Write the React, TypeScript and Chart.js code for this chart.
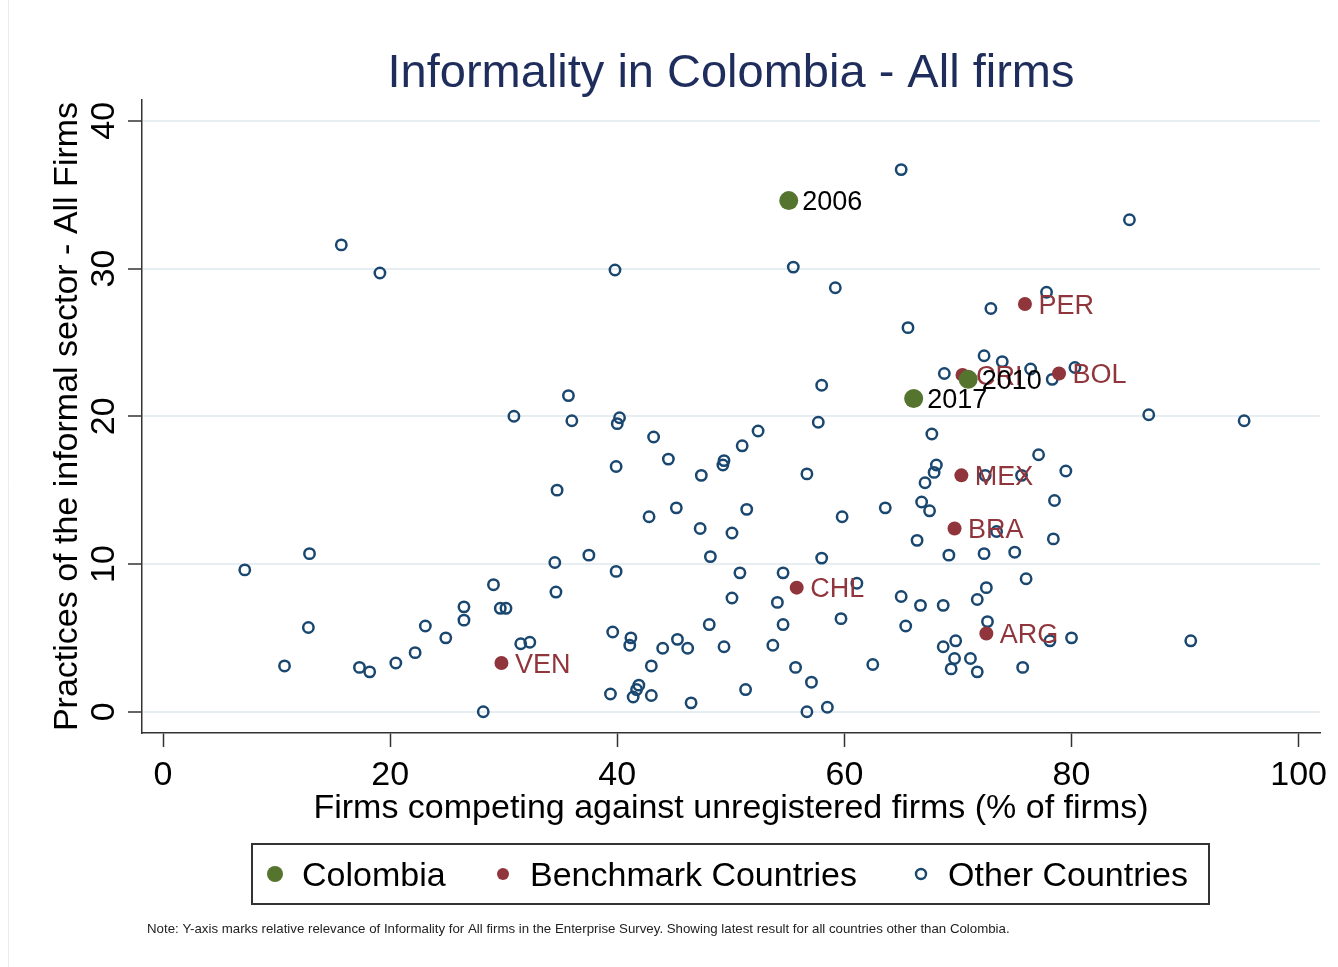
import React, { useEffect, useRef } from "react";
import { Chart, registerables } from "chart.js";

Chart.register(...registerables);

const xTicks = [0, 20, 40, 60, 80, 100];
const yTicks = [0, 10, 20, 30, 40];

const colombiaLabels = ["2006", "2010", "2017"];
const colombiaX = [55.1, 70.9, 66.1];
const colombiaY = [34.6, 22.5, 21.2];

const benchmarkLabels = ["PER", "CRI", "BOL", "MEX", "BRA", "ARG", "CHL", "VEN"];
const benchmarkX = [75.9, 70.4, 78.9, 70.3, 69.7, 72.5, 55.8, 29.8];
const benchmarkY = [27.6, 22.8, 22.9, 16.0, 12.4, 5.3, 8.4, 3.3];

const otherX = [
  15.7, 19.1, 7.2, 12.9, 12.8, 10.7, 17.3, 18.2, 20.5, 22.2, 23.1, 24.9,
  30.9, 36.0, 40.2, 40.0, 43.2, 52.4, 51.0, 49.4, 49.3, 44.5, 39.9, 47.4,
  57.7, 56.7, 34.7, 45.2, 42.8, 51.4, 59.8, 63.6, 47.3, 50.1, 37.5, 34.5,
  39.9, 48.2, 58.0, 50.8, 54.6, 61.1, 29.1, 34.6, 26.5, 26.5, 29.7, 30.2,
  50.1, 54.1, 59.7, 31.5, 32.3, 39.6, 41.2, 41.1, 48.1, 54.6, 45.3, 46.2,
  44.0, 49.4, 53.7, 43.0, 55.7, 62.5, 57.1, 39.4, 41.9, 41.7, 41.4, 43.0,
  46.5, 51.3, 28.2, 56.7, 58.5, 39.8, 55.5, 59.2, 58.0, 35.7, 65.0, 85.1,
  77.8, 72.9, 65.6, 72.3, 73.9, 76.4, 68.8, 78.3, 80.3, 86.8, 95.2, 67.7,
  77.1, 68.1, 67.9, 67.1, 79.5, 72.4, 75.6, 78.5, 66.8, 67.5, 73.4, 78.4,
  66.4, 69.2, 72.3, 75.0, 76.0, 72.5, 71.7, 65.0, 66.7, 68.7, 65.4, 72.6,
  69.8, 68.7, 78.1, 80.0, 90.5, 69.7, 71.1, 69.4, 71.7, 75.7,
];
const otherY = [
  31.6, 29.7, 9.6, 10.7, 5.7, 3.1, 3.0, 2.7, 3.3, 4.0, 5.8, 5.0,
  20.0, 19.7, 19.9, 19.5, 18.6, 19.0, 18.0, 17.0, 16.7, 17.1, 16.6, 16.0,
  19.6, 16.1, 15.0, 13.8, 13.2, 13.7, 13.2, 13.8, 12.4, 12.1, 10.6, 10.1,
  9.5, 10.5, 10.4, 9.4, 9.4, 8.7, 8.6, 8.1, 7.1, 6.2, 7.0, 7.0,
  7.7, 7.4, 6.3, 4.6, 4.7, 5.4, 5.0, 4.5, 5.9, 5.9, 4.9, 4.3,
  4.3, 4.4, 4.5, 3.1, 3.0, 3.2, 2.0, 1.2, 1.8, 1.5, 1.0, 1.1,
  0.6, 1.5, 0.0, 0.0, 0.3, 29.9, 30.1, 28.7, 22.1, 21.4, 36.7, 33.3,
  28.4, 27.3, 26.0, 24.1, 23.7, 23.2, 22.9, 22.5, 23.3, 20.1, 19.7, 18.8,
  17.4, 16.7, 16.2, 15.5, 16.3, 16.0, 16.0, 14.3, 14.2, 13.6, 12.2, 11.7,
  11.6, 10.6, 10.7, 10.8, 9.0, 8.4, 7.6, 7.8, 7.2, 7.2, 5.8, 6.1,
  4.8, 4.4, 4.8, 5.0, 4.8, 3.6, 3.6, 2.9, 2.7, 3.0,
];

const titleText = "Informality in Colombia - All firms";
const xTitle = "Firms competing against unregistered firms (% of firms)";
const yTitle = "Practices of the informal sector - All Firms";
const legendLabels = ["Colombia", "Benchmark Countries", "Other Countries"];
const noteText =
  "Note: Y-axis marks relative relevance of Informality for All firms in the Enterprise Survey. Showing latest result for all countries other than Colombia.";

const GREEN = "#55752f";
const MAROON = "#90353b";
const NAVY = "#1a476f";
const TITLE_COLOR = "#1f2d5c";
const AXIS = "#333333";
const GRID = "#e6eef1";
const FONT = '"Liberation Sans", Arial, Helvetica, sans-serif';

export default function App() {
  const ref = useRef<HTMLCanvasElement>(null);

  useEffect(() => {
    const canvas = ref.current;
    if (!canvas) return;

    const decor = {
      id: "decor",
      beforeDraw(chart: any) {
        const ctx = chart.ctx;
        ctx.save();
        ctx.fillStyle = "#ffffff";
        ctx.fillRect(0, 0, chart.width, chart.height);
        ctx.strokeStyle = "#ececec";
        ctx.lineWidth = 1;
        ctx.beginPath();
        ctx.moveTo(8.5, 0);
        ctx.lineTo(8.5, chart.height);
        ctx.stroke();
        ctx.restore();
      },
      afterDatasetsDraw(chart: any) {
        const ctx = chart.ctx;
        ctx.save();
        ctx.font = `27px ${FONT}`;
        ctx.textAlign = "left";
        ctx.textBaseline = "alphabetic";
        const draw = (idx: number, labels: string[], color: string) => {
          const meta = chart.getDatasetMeta(idx);
          ctx.fillStyle = color;
          meta.data.forEach((el: any, i: number) => {
            ctx.fillText(labels[i], el.x + 13.5, el.y + 9.7);
          });
        };
        draw(1, benchmarkLabels, MAROON);
        draw(0, colombiaLabels, "#000000");
        ctx.restore();
      },
      afterDraw(chart: any) {
        const ctx = chart.ctx;
        const area = chart.chartArea;
        const cx = (area.left + area.right) / 2;
        const cy = (area.top + area.bottom) / 2;
        ctx.save();

        // title
        ctx.fillStyle = TITLE_COLOR;
        ctx.font = `47px ${FONT}`;
        ctx.textAlign = "center";
        ctx.textBaseline = "alphabetic";
        ctx.fillText(titleText, cx, 87);

        // x tick labels
        ctx.fillStyle = "#000000";
        ctx.font = `34px ${FONT}`;
        const xs = chart.scales.x;
        xs.ticks.forEach((t: any) => {
          ctx.fillText(String(t.value), xs.getPixelForValue(t.value), 785);
        });

        // y tick labels (rotated)
        const ys = chart.scales.y;
        ys.ticks.forEach((t: any) => {
          ctx.save();
          ctx.translate(114, ys.getPixelForValue(t.value));
          ctx.rotate(-Math.PI / 2);
          ctx.fillText(String(t.value), 0, 0);
          ctx.restore();
        });

        // axis titles
        ctx.fillText(xTitle, cx, 818);
        ctx.save();
        ctx.translate(77, cy);
        ctx.rotate(-Math.PI / 2);
        ctx.fillText(yTitle, 0, 0);
        ctx.restore();

        // legend
        ctx.strokeStyle = "#333333";
        ctx.lineWidth = 2;
        ctx.strokeRect(252, 844, 957, 60);
        ctx.textAlign = "left";
        ctx.fillStyle = GREEN;
        ctx.beginPath();
        ctx.arc(275, 874, 8, 0, Math.PI * 2);
        ctx.fill();
        ctx.fillStyle = MAROON;
        ctx.beginPath();
        ctx.arc(503, 874, 6, 0, Math.PI * 2);
        ctx.fill();
        ctx.strokeStyle = NAVY;
        ctx.lineWidth = 2.4;
        ctx.beginPath();
        ctx.arc(921, 874, 5, 0, Math.PI * 2);
        ctx.stroke();
        ctx.fillStyle = "#000000";
        ctx.fillText(legendLabels[0], 302, 886);
        ctx.fillText(legendLabels[1], 530, 886);
        ctx.fillText(legendLabels[2], 948, 886);

        // note
        ctx.font = `12px ${FONT}`;
        const w = ctx.measureText(noteText).width;
        const size = (12 * 863) / w;
        ctx.font = `${size.toFixed(2)}px ${FONT}`;
        ctx.fillStyle = "#222222";
        ctx.fillText(noteText, 147, 933);

        ctx.restore();
      },
    };

    const chart = new Chart(canvas, {
      type: "scatter",
      data: {
        datasets: [
          {
            label: legendLabels[0],
            data: colombiaX.map((x, i) => ({ x, y: colombiaY[i] })),
            pointRadius: 9.5,
            pointBackgroundColor: GREEN,
            pointBorderWidth: 0,
            pointBorderColor: GREEN,
          },
          {
            label: legendLabels[1],
            data: benchmarkX.map((x, i) => ({ x, y: benchmarkY[i] })),
            pointRadius: 7,
            pointBackgroundColor: MAROON,
            pointBorderWidth: 0,
            pointBorderColor: MAROON,
          },
          {
            label: legendLabels[2],
            data: otherX.map((x, i) => ({ x, y: otherY[i] })),
            pointRadius: 5.2,
            pointBackgroundColor: "rgba(0,0,0,0)",
            pointBorderColor: NAVY,
            pointBorderWidth: 2.5,
          },
        ],
      },
      options: {
        animation: false,
        responsive: false,
        devicePixelRatio: 1,
        events: [],
        layout: { padding: { top: 100, right: 18, left: 0, bottom: 0 } },
        plugins: {
          legend: { display: false },
          title: { display: false },
          tooltip: { enabled: false },
        },
        scales: {
          x: {
            type: "linear",
            min: -1.85,
            max: 101.88,
            afterBuildTicks: (s: any) => {
              s.ticks = xTicks.map((v) => ({ value: v }));
            },
            afterFit: (s: any) => {
              s.height = 234;
            },
            ticks: { display: false },
            grid: {
              drawOnChartArea: false,
              drawTicks: true,
              tickLength: 14,
              tickColor: AXIS,
              tickWidth: 1.5,
              color: AXIS,
            },
            border: { display: true, color: AXIS, width: 1.5 },
          },
          y: {
            type: "linear",
            min: -1.44,
            max: 41.41,
            afterBuildTicks: (s: any) => {
              s.ticks = yTicks.map((v) => ({ value: v }));
            },
            afterFit: (s: any) => {
              s.width = 142;
            },
            ticks: { display: false },
            grid: {
              drawOnChartArea: true,
              drawTicks: true,
              tickLength: 14,
              tickColor: AXIS,
              tickWidth: 1.5,
              color: GRID,
              lineWidth: 2,
            },
            border: { display: true, color: AXIS, width: 1.5 },
          },
        },
      },
      plugins: [decor],
    } as any);

    return () => {
      chart.destroy();
    };
  }, []);

  return (
    <div style={{ position: "absolute", left: 0, top: 0, width: 1338, height: 967, background: "#fff" }}>
      <canvas ref={ref} width={1338} height={967} style={{ display: "block", width: 1338, height: 967 }} />
    </div>
  );
}
